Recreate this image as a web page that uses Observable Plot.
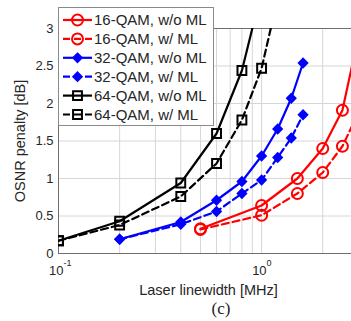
<!DOCTYPE html>
<html><head><meta charset="utf-8">
<script src="https://cdn.jsdelivr.net/npm/d3@7"></script>
<script src="https://cdn.jsdelivr.net/npm/@observablehq/plot@0.6"></script>
<style>
html,body{margin:0;padding:0;background:#fff;overflow:hidden;width:351px;height:321px}
#wrap{position:relative;width:351px;height:321px;overflow:hidden;font-family:"Liberation Sans",Arial,sans-serif}
#chart{position:absolute;left:0;top:0;width:360px}
#chart svg{max-width:none !important}
#legend{position:absolute;left:0;top:0}
#cap{position:absolute;left:171px;top:300px;width:100px;text-align:center;font-family:"Liberation Serif","Times New Roman",serif;font-size:17px;line-height:17px;color:#222}
</style></head>
<body><div id="wrap"><div id="chart"></div><div id="legend"></div><div id="cap">(c)</div></div>
<script>
// ---- data ----
const seriesNames = ["16-QAM, w/o ML","16-QAM, w/ ML","32-QAM, w/o ML","32-QAM, w/ ML","64-QAM, w/o ML","64-QAM, w/ ML"];
const x16 = [0.5, 1.0, 1.5, 2.0, 2.5, 3.0];
const y16wo = [0.33, 0.64, 1.00, 1.40, 1.91, 2.90];
const y16w  = [0.32, 0.51, 0.80, 1.08, 1.43, 1.88];
const x32 = [0.2, 0.4, 0.6, 0.8, 1.0, 1.2, 1.4, 1.6];
const y32wo = [0.19, 0.42, 0.71, 0.96, 1.30, 1.66, 2.07, 2.54];
const y32w  = [0.19, 0.39, 0.56, 0.80, 0.98, 1.28, 1.54, 1.85];
const x64wo = [0.1, 0.2, 0.4, 0.6, 0.8, 1.0];
const y64wo = [0.17, 0.43, 0.94, 1.60, 2.44, 3.50];
const x64w  = [0.1, 0.2, 0.4, 0.6, 0.8, 1.0, 1.2];
const y64w  = [0.17, 0.38, 0.76, 1.20, 1.78, 2.47, 3.40];
const yTicks = [0, 0.5, 1, 1.5, 2, 2.5, 3];
const xLabelTicks = [0.1, 1];
const xLabelExp = ["-1", "0"];
const xGrid = [0.1,0.2,0.3,0.4,0.5,0.6,0.7,0.8,0.9,1,2,3];
const xTitle = "Laser linewidth [MHz]";
const yTitle = "OSNR penalty [dB]";

// ---- styles ----
const styles = [
  {color:"#ff0000", dash:null, symbol:"circle", fill:"none", r:5.5},
  {color:"#ff0000", dash:"7,4", symbol:"circle", fill:"none", r:5.5},
  {color:"#0000ff", dash:null, symbol:"diamond2", fill:"#0000ff", r:3.8},
  {color:"#0000ff", dash:"7,4", symbol:"diamond2", fill:"#0000ff", r:3.8},
  {color:"#000000", dash:null, symbol:"square", fill:"none", r:5},
  {color:"#000000", dash:"7,4", symbol:"square", fill:"none", r:5}
];
const seriesXY = [[x16,y16wo],[x16,y16w],[x32,y32wo],[x32,y32w],[x64wo,y64wo],[x64w,y64w]];

const data = [];
seriesXY.forEach(([xs, ys], k) => xs.forEach((x, i) => data.push({x, y: ys[i], s: seriesNames[k]})));

const seriesMarks = [];
seriesNames.forEach((name, k) => {
  const st = styles[k];
  const d = data.filter(r => r.s === name);
  seriesMarks.push(Plot.line(d, {x:"x", y:"y", stroke: st.color, strokeWidth: 2.2, strokeDasharray: st.dash || undefined, clip: true}));
  seriesMarks.push(Plot.dot(d, {x:"x", y:"y", stroke: st.color, fill: st.fill, strokeWidth: 2, symbol: st.symbol, r: st.r, clip: true}));
});

const plot = Plot.plot({
  width: 360, height: 321,
  marginLeft: 58, marginRight: 2, marginTop: 28, marginBottom: 68,
  style: {fontFamily: "'Liberation Sans', Arial, sans-serif", fontSize: "13px", background: "transparent", overflow: "visible", color: "#262626", maxWidth: "none"},
  x: {type: "log", domain: [0.1, 3], axis: null},
  y: {domain: [0, 3], axis: null},
  marks: [
    Plot.ruleX(xGrid, {x: d => d, stroke: "#d6d6d6", strokeWidth: 1}),
    Plot.ruleY(yTicks, {y: d => d, stroke: "#d6d6d6", strokeWidth: 1}),
    Plot.frame({stroke: "#6e6e6e"}),
    Plot.axisY({ticks: yTicks, tickSize: 0, tickPadding: 5, tickFormat: d => String(d), fontSize: 13, label: null}),
    Plot.text(xLabelTicks, {x: d => d, text: () => "10", frameAnchor: "bottom", textAnchor: "end", lineAnchor: "middle", dx: 5, dy: 17, fontSize: 13}),
    Plot.text(xLabelTicks, {x: d => d, text: (d, i) => xLabelExp[i], frameAnchor: "bottom", textAnchor: "start", lineAnchor: "middle", dx: 5, dy: 9.5, fontSize: 9}),
    ...seriesMarks,
    Plot.text([xTitle], {text: d => d, frameAnchor: "bottom", textAnchor: "middle", lineAnchor: "middle", dy: 37, fontSize: 14.5}),
    Plot.text([yTitle], {text: d => d, frameAnchor: "left", textAnchor: "middle", lineAnchor: "middle", rotate: -90, dx: -38, fontSize: 14.5})
  ]
});
document.getElementById("chart").appendChild(plot);

// ---- legend ----
const lg = d3.select("#legend").append("svg").attr("width", 351).attr("height", 140)
  .style("font-family", "'Liberation Sans', Arial, sans-serif");
lg.append("rect").attr("x", 58.5).attr("y", 7.5).attr("width", 155).attr("height", 118)
  .attr("fill", "#fff").attr("stroke", "#8a8a8a").attr("stroke-width", 1);
seriesNames.forEach((name, k) => {
  const st = styles[k];
  const cy = 20 + k * 18.9;
  const g = lg.append("g");
  g.append("line").attr("x1", 63).attr("x2", 92).attr("y1", cy).attr("y2", cy)
    .attr("stroke", st.color).attr("stroke-width", 2.2).attr("stroke-dasharray", st.dash);
  const sym = st.symbol === "circle" ? d3.symbolCircle : st.symbol === "square" ? d3.symbolSquare : d3.symbolDiamond2;
  g.append("path").attr("d", d3.symbol(sym, Math.PI * st.r * st.r)())
    .attr("transform", `translate(77.5,${cy})`)
    .attr("fill", st.fill === "none" ? "#fff" : st.fill).attr("fill-opacity", st.fill === "none" ? 0 : 1)
    .attr("stroke", st.color).attr("stroke-width", 2);
  g.append("text").attr("x", 94).attr("y", cy).attr("dy", "0.35em")
    .attr("font-size", 15).attr("fill", "#262626").text(name);
});
</script>
</body></html>
